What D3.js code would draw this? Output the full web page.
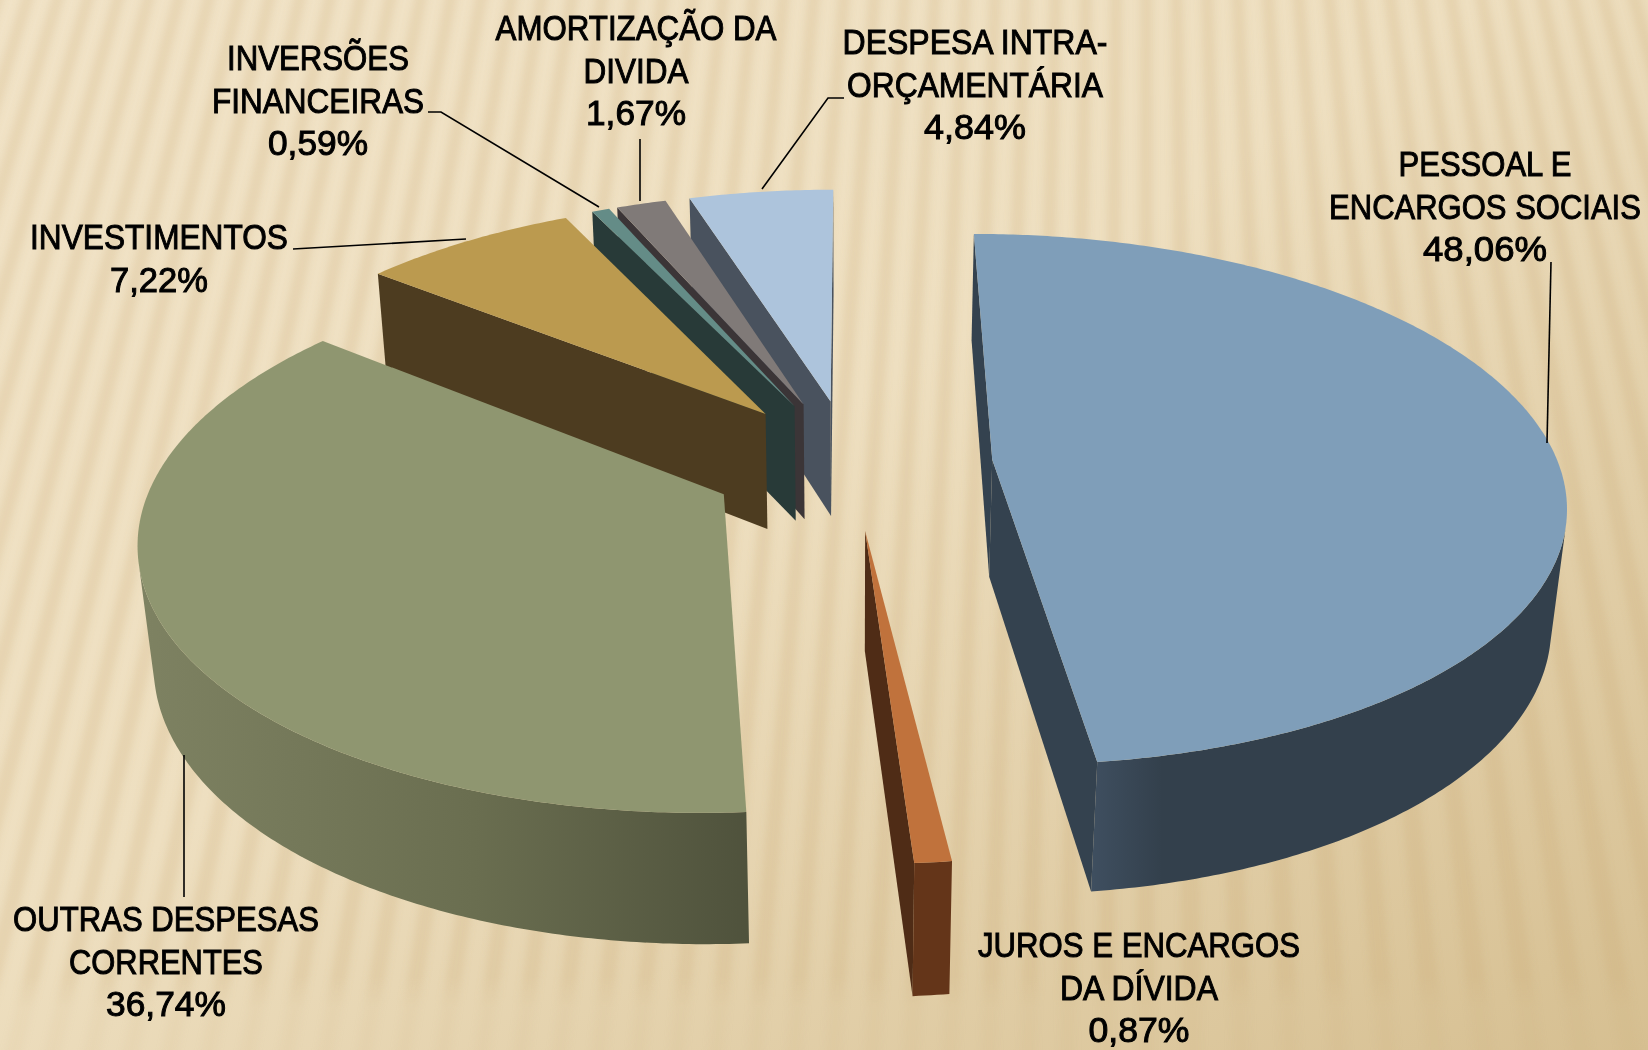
<!DOCTYPE html>
<html>
<head>
<meta charset="utf-8">
<script src="https://cdnjs.cloudflare.com/ajax/libs/d3/7.8.5/d3.min.js"></script>
<style>
  html, body { margin: 0; padding: 0; overflow: hidden; background: #efe0c2; }
  svg { display: block; }
  text { font-family: "Liberation Sans", Arial, sans-serif; font-size: 35px; fill: #000; stroke: #000; stroke-width: 1px; text-anchor: middle; }
</style>
</head>
<body>
<div id="chart"></div>
<script>
// data, clockwise from 12 o'clock
var categories = [
  ["PESSOAL E", "ENCARGOS SOCIAIS"],
  ["JUROS E ENCARGOS", "DA DÍVIDA"],
  ["OUTRAS DESPESAS", "CORRENTES"],
  ["INVESTIMENTOS"],
  ["INVERSÕES", "FINANCEIRAS"],
  ["AMORTIZAÇÃO DA", "DIVIDA"],
  ["DESPESA INTRA-", "ORÇAMENTÁRIA"]
];
var values = [48.06, 0.87, 36.74, 7.22, 0.59, 1.67, 4.84];

// colours per slice
var topColors = ["#7f9eb9", "#c0723c", "#8f9670", "#bb9a4f", "#648c87", "#807a78", "#adc4dc"];
var sideColors = ["#34424f", "#4f2c16", "#6f7355", "#4d3c20", "#283a38", "#3b3537", "#49525e"];
var rimStops = [
  ["#3f4f60", "#33404c", "#33404c"],
  ["#643519", "#643519", "#643519"],
  ["#7e8262", "#6a6e50", "#4f523c"],
  ["#4d3c20", "#4d3c20", "#4d3c20"],
  ["#283a38", "#283a38", "#283a38"],
  ["#3b3537", "#3b3537", "#3b3537"],
  ["#49525e", "#49525e", "#49525e"]
];
var rimMid = [0.15, 0.5, 0.55, 0.5, 0.5, 0.5, 0.5];
// back to front
var drawOrder = [6, 5, 4, 3, 0, 1, 2];

// label layout: centre x, first baseline, width of each line (last is the percentage)
var labelLayout = [
  { x: 1485, y: 176, widths: [173, 312, 124] },
  { x: 1139, y: 957, widths: [322, 158, 101] },
  { x: 166, y: 931, widths: [306, 194, 120] },
  { x: 159, y: 249, widths: [258, 98] },
  { x: 318, y: 70, widths: [182, 212, 100] },
  { x: 636, y: 40, widths: [281, 105, 100] },
  { x: 975, y: 54, widths: [265, 256, 102] }
];
var leaders = [
  [[1551, 262], [1547, 443]],
  [[184, 755], [184, 897]],
  [[293, 249], [466, 239]],
  [[428, 112], [441, 112], [599, 207]],
  [[640, 139], [640, 201]],
  [[844, 98], [828, 98], [762, 189]]
];

var svgWidth = 1648;
var svgHeight = 1050;

// pie camera
var cx = 851.3, cy = 463.5, radiusX = 566, radiusY = 260.6;
var explode = 0.25, perspective = 0.15, depthPerspective = 0.022, thickness = 0.46;

var svg = d3.select("#chart")
  .append("svg")
  .attr("width", svgWidth)
  .attr("height", svgHeight);

var defs = svg.append("defs");
var bgGrad = defs.append("linearGradient")
  .attr("id", "bg")
  .attr("x1", "0").attr("y1", "0").attr("x2", "1").attr("y2", "1");
bgGrad.append("stop").attr("offset", "0").attr("stop-color", "#f1e3c7");
bgGrad.append("stop").attr("offset", "0.45").attr("stop-color", "#eedfc0");
bgGrad.append("stop").attr("offset", "1").attr("stop-color", "#d6bf91");
defs.append("filter").attr("id", "soft")
  .attr("x", "-10%").attr("y", "-10%").attr("width", "120%").attr("height", "120%")
  .append("feGaussianBlur").attr("stdDeviation", 3.5);

var fade = defs.append("linearGradient")
  .attr("id", "fadeGrad")
  .attr("x1", "0").attr("y1", "0").attr("x2", "0").attr("y2", "1");
fade.append("stop").attr("offset", "0.93").attr("stop-color", "#fff");
fade.append("stop").attr("offset", "0.96").attr("stop-color", "#555");
defs.append("mask").attr("id", "fadeMask")
  .attr("maskUnits", "userSpaceOnUse")
  .attr("x", 0).attr("y", 0).attr("width", svgWidth).attr("height", svgHeight)
  .append("rect")
  .attr("width", svgWidth).attr("height", svgHeight)
  .attr("fill", "url(#fadeGrad)");

svg.append("rect")
  .attr("width", svgWidth)
  .attr("height", svgHeight)
  .attr("fill", "url(#bg)");

// background stripes lean away from an upright one near x = 1150
var stripeStep = 30;
function stripeSlope(x) {
  return x < 1150 ? (x - 1150) / 3500 : (x - 1150) / 1700;
}
svg.append("g")
  .attr("mask", "url(#fadeMask)")
  .append("g")
  .attr("filter", "url(#soft)")
  .selectAll("path")
  .data(d3.range(-6, 62))
  .enter()
  .append("path")
  .attr("d", function(i) {
    var x0 = i * stripeStep;
    var x1 = x0 + stripeStep * 0.42;
    var bottom = svgHeight + 30;
    return "M" + x0 + ",-30L" + x1 + ",-30L" + (x1 + stripeSlope(x1) * bottom) + "," + bottom + "L" + (x0 + stripeSlope(x0) * bottom) + "," + bottom + "Z";
  })
  .attr("fill", "#c7a66c")
  .attr("opacity", 0.2);

var xScale = d3.scaleLinear().domain([-1, 1]).range([cx - radiusX, cx + radiusX]);
var yScale = d3.scaleLinear().domain([-1, 1]).range([cy + radiusY, cy - radiusY]);

function project(gx, gy, bottom) {
  var z = bottom ? 1 : 0;
  var w = 1 + perspective * gy + depthPerspective * z;
  return [xScale(gx / w), yScale((gy - thickness * z) / w)];
}

var pie = d3.pie().sort(null).startAngle(0).endAngle(2 * Math.PI);
var arcs = pie(values);
var line = d3.line();
var pieGroup = svg.append("g");

function drawFace(points, fill) {
  if (d3.polygonArea(points) <= 0) return;
  pieGroup.append("path")
    .attr("d", line(points) + "Z")
    .attr("fill", fill);
}

drawOrder.forEach(function(i) {
  var a = arcs[i];
  var mid = (a.startAngle + a.endAngle) / 2;
  var ox = explode * Math.sin(mid);
  var oy = explode * Math.cos(mid);
  var n = Math.max(2, Math.ceil((a.endAngle - a.startAngle) / 0.01));
  var angles = d3.range(n + 1).map(function(k) {
    return a.startAngle + (a.endAngle - a.startAngle) * k / n;
  });
  var rim = angles.map(function(t) { return [ox + Math.sin(t), oy + Math.cos(t)]; });

  // walls: radial sides first, hidden faces are skipped
  var first = rim[0], last = rim[n];
  drawFace([project(ox, oy), project(first[0], first[1]), project(first[0], first[1], true), project(ox, oy, true)], sideColors[i]);
  drawFace([project(last[0], last[1]), project(ox, oy), project(ox, oy, true), project(last[0], last[1], true)], sideColors[i]);

  // outer rim, only the run of steps facing the camera
  var visible = rim.filter(function(p, k) {
    if (k == n) return false;
    var q = rim[k + 1];
    return d3.polygonArea([project(p[0], p[1]), project(q[0], q[1]), project(q[0], q[1], true), project(p[0], p[1], true)]) > 0;
  });
  if (visible.length) {
    var lastKept = rim[rim.indexOf(visible[visible.length - 1]) + 1];
    visible.push(lastKept);
    var upper = visible.map(function(p) { return project(p[0], p[1]); });
    var lower = visible.map(function(p) { return project(p[0], p[1], true); }).reverse();
    var rimPoly = upper.concat(lower);
    var gradId = "rim" + i;
    var grad = defs.append("linearGradient")
      .attr("id", gradId)
      .attr("gradientUnits", "userSpaceOnUse")
      .attr("x1", d3.min(rimPoly, function(p) { return p[0]; }))
      .attr("x2", d3.max(rimPoly, function(p) { return p[0]; }))
      .attr("y1", 0).attr("y2", 0);
    [0, rimMid[i], 1].forEach(function(o, s) {
      grad.append("stop").attr("offset", o).attr("stop-color", rimStops[i][s]);
    });
    pieGroup.append("path")
      .attr("d", line(rimPoly) + "Z")
      .attr("fill", "url(#" + gradId + ")");
  }

  // top
  var top = [project(ox, oy)].concat(rim.map(function(p) { return project(p[0], p[1]); }));
  pieGroup.append("path")
    .attr("d", line(top) + "Z")
    .attr("fill", topColors[i]);
});

svg.append("g")
  .selectAll("path")
  .data(leaders)
  .enter()
  .append("path")
  .attr("d", function(d) { return line(d); })
  .attr("fill", "none")
  .attr("stroke", "#000")
  .attr("stroke-width", 1.6);

var ptBR = d3.formatLocale({ decimal: ",", thousands: ".", grouping: [3], currency: ["R$", ""] });
var percent = ptBR.format(".2f");

categories.forEach(function(lines, i) {
  var layout = labelLayout[i];
  lines.concat(percent(values[i]) + "%").forEach(function(t, j) {
    var label = svg.append("text").text(t);
    var sx = layout.widths[j] / label.node().getComputedTextLength();
    label.attr("transform", "translate(" + layout.x + "," + (layout.y + j * 42.5) + ") scale(" + sx + ",1)");
  });
});
</script>
</body>
</html>
